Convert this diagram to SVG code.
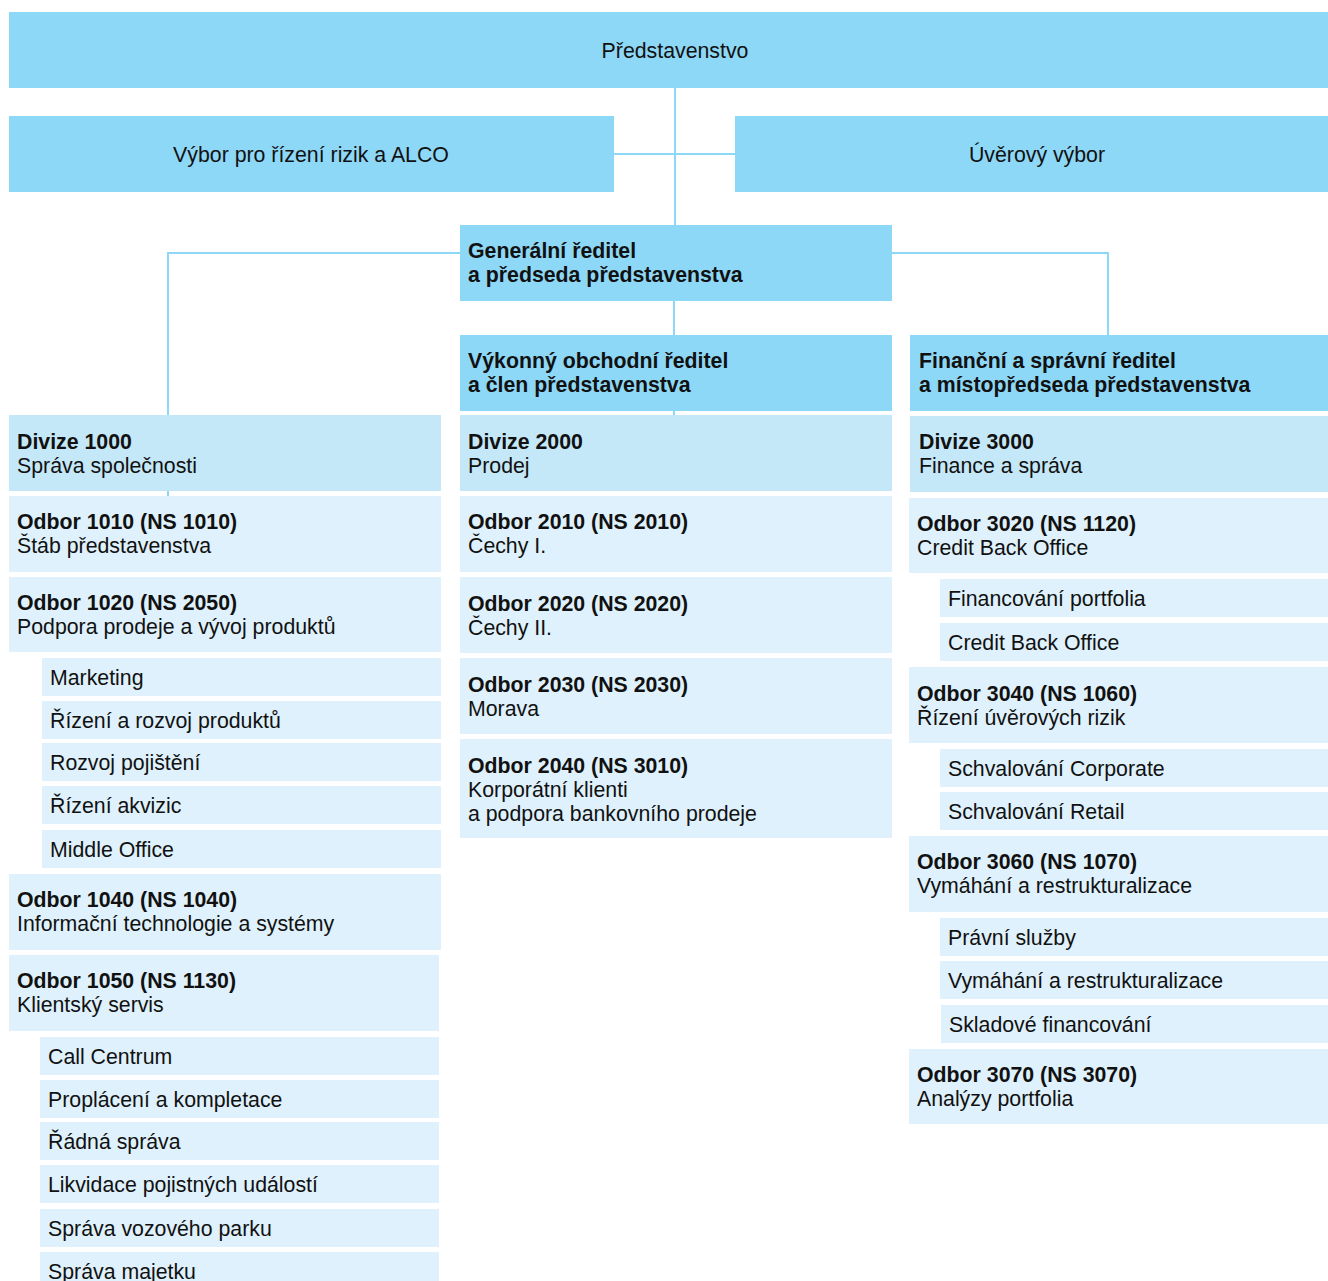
<svg xmlns="http://www.w3.org/2000/svg" width="1328" height="1281" viewBox="0 0 1328 1281">
<style>
.bg{fill:#ffffff}
.d{fill:#8ed8f7}
.m{fill:#c5e8f8}
.l{fill:#dff1fc}
.c{stroke:#8ed8f7;stroke-width:2;fill:none}
text{font-family:"Liberation Sans",Arial,Helvetica,sans-serif;font-size:21.3px;fill:#111111}
.b{font-weight:bold}
.ctr{text-anchor:middle}
</style>
<rect class="bg" x="0" y="0" width="1328" height="1281"/>
<g id="connectors">
<path class="c" d="M675,88 V225"/>
<path class="c" d="M614,154 H735"/>
<path class="c" d="M460,253 H168 V496"/>
<path class="c" d="M892,253 H1108 V335"/>
<path class="c" d="M674,300 V415"/>
</g>
<g id="n-predstavenstvo"><rect class="d" x="9" y="12" width="1319" height="76"/><text class="ctr" x="675" y="58">Představenstvo</text></g>
<g id="n-vybor-rizik"><rect class="d" x="9" y="116" width="605" height="76"/><text class="ctr" x="311" y="162">Výbor pro řízení rizik a ALCO</text></g>
<g id="n-uverovy"><rect class="d" x="735" y="116" width="593" height="76"/><text class="ctr" x="1037" y="162">Úvěrový výbor</text></g>
<g id="n-generalni"><rect class="d" x="460" y="225" width="432" height="76"/><text class="b" x="468" y="258">Generální ředitel</text><text class="b" x="468" y="282">a předseda představenstva</text></g>
<g id="n-vykonny"><rect class="d" x="460" y="335" width="432" height="76"/><text class="b" x="468" y="368">Výkonný obchodní ředitel</text><text class="b" x="468" y="392">a člen představenstva</text></g>
<g id="n-financni"><rect class="d" x="910" y="335" width="418" height="76"/><text class="b" x="919" y="368">Finanční a správní ředitel</text><text class="b" x="919" y="392">a místopředseda představenstva</text></g>

<g id="n-div1000"><rect class="m" x="9" y="415" width="432" height="76"/><text class="b" x="17" y="449">Divize 1000</text><text x="17" y="473">Správa společnosti</text></g>
<g id="n-o1010"><rect class="l" x="9" y="496" width="432" height="76"/><text class="b" x="17" y="529">Odbor 1010 (NS 1010)</text><text x="17" y="553">Štáb představenstva</text></g>
<g id="n-o1020"><rect class="l" x="9" y="577" width="432" height="75"/><text class="b" x="17" y="610">Odbor 1020 (NS 2050)</text><text x="17" y="634">Podpora prodeje a vývoj produktů</text></g>
<g id="n-marketing"><rect class="l" x="42" y="658" width="399" height="38"/><text x="50" y="685">Marketing</text></g>
<g id="n-rizeni-rozvoj"><rect class="l" x="42" y="701" width="399" height="38"/><text x="50" y="728">Řízení a rozvoj produktů</text></g>
<g id="n-rozvoj-pojisteni"><rect class="l" x="42" y="743" width="399" height="38"/><text x="50" y="770">Rozvoj pojištění</text></g>
<g id="n-rizeni-akvizic"><rect class="l" x="42" y="786" width="399" height="38"/><text x="50" y="813">Řízení akvizic</text></g>
<g id="n-middle-office"><rect class="l" x="42" y="830" width="399" height="38"/><text x="50" y="857">Middle Office</text></g>
<g id="n-o1040"><rect class="l" x="9" y="874" width="432" height="76"/><text class="b" x="17" y="907">Odbor 1040 (NS 1040)</text><text x="17" y="931">Informační technologie a systémy</text></g>
<g id="n-o1050"><rect class="l" x="9" y="955" width="430" height="76"/><text class="b" x="17" y="988">Odbor 1050 (NS 1130)</text><text x="17" y="1012">Klientský servis</text></g>
<g id="n-call"><rect class="l" x="40" y="1037" width="399" height="38"/><text x="48" y="1064">Call Centrum</text></g>
<g id="n-proplaceni"><rect class="l" x="40" y="1080" width="399" height="38"/><text x="48" y="1107">Proplácení a kompletace</text></g>
<g id="n-radna"><rect class="l" x="40" y="1122" width="399" height="38"/><text x="48" y="1149">Řádná správa</text></g>
<g id="n-likvidace"><rect class="l" x="40" y="1165" width="399" height="38"/><text x="48" y="1192">Likvidace pojistných událostí</text></g>
<g id="n-vozovy"><rect class="l" x="40" y="1209" width="399" height="38"/><text x="48" y="1236">Správa vozového parku</text></g>
<g id="n-majetek"><rect class="l" x="40" y="1252" width="399" height="38"/><text x="48" y="1279">Správa majetku</text></g>

<g id="n-div2000"><rect class="m" x="460" y="415" width="432" height="76"/><text class="b" x="468" y="449">Divize 2000</text><text x="468" y="473">Prodej</text></g>
<g id="n-o2010"><rect class="l" x="460" y="496" width="432" height="76"/><text class="b" x="468" y="529">Odbor 2010 (NS 2010)</text><text x="468" y="553">Čechy I.</text></g>
<g id="n-o2020"><rect class="l" x="460" y="577" width="432" height="76"/><text class="b" x="468" y="611">Odbor 2020 (NS 2020)</text><text x="468" y="635">Čechy II.</text></g>
<g id="n-o2030"><rect class="l" x="460" y="658" width="432" height="76"/><text class="b" x="468" y="692">Odbor 2030 (NS 2030)</text><text x="468" y="716">Morava</text></g>
<g id="n-o2040"><rect class="l" x="460" y="739" width="432" height="99"/><text class="b" x="468" y="773">Odbor 2040 (NS 3010)</text><text x="468" y="797">Korporátní klienti</text><text x="468" y="821">a podpora bankovního prodeje</text></g>

<g id="n-div3000"><rect class="m" x="910" y="416" width="418" height="76"/><text class="b" x="919" y="449">Divize 3000</text><text x="919" y="473">Finance a správa</text></g>
<g id="n-o3020"><rect class="l" x="909" y="498" width="419" height="75"/><text class="b" x="917" y="531">Odbor 3020 (NS 1120)</text><text x="917" y="555">Credit Back Office</text></g>
<g id="n-financovani"><rect class="l" x="940" y="579" width="388" height="38"/><text x="948" y="606">Financování portfolia</text></g>
<g id="n-cbo"><rect class="l" x="940" y="623" width="388" height="38"/><text x="948" y="650">Credit Back Office</text></g>
<g id="n-o3040"><rect class="l" x="909" y="667" width="419" height="76"/><text class="b" x="917" y="701">Odbor 3040 (NS 1060)</text><text x="917" y="725">Řízení úvěrových rizik</text></g>
<g id="n-corporate"><rect class="l" x="940" y="749" width="388" height="38"/><text x="948" y="776">Schvalování Corporate</text></g>
<g id="n-retail"><rect class="l" x="940" y="792" width="388" height="38"/><text x="948" y="819">Schvalování Retail</text></g>
<g id="n-o3060"><rect class="l" x="909" y="836" width="419" height="76"/><text class="b" x="917" y="869">Odbor 3060 (NS 1070)</text><text x="917" y="893">Vymáhání a restrukturalizace</text></g>
<g id="n-pravni"><rect class="l" x="940" y="918" width="388" height="38"/><text x="948" y="945">Právní služby</text></g>
<g id="n-vymahani"><rect class="l" x="940" y="961" width="388" height="38"/><text x="948" y="988">Vymáhání a restrukturalizace</text></g>
<g id="n-skladove"><rect class="l" x="941" y="1005" width="387" height="38"/><text x="949" y="1032">Skladové financování</text></g>
<g id="n-o3070"><rect class="l" x="909" y="1049" width="419" height="75"/><text class="b" x="917" y="1082">Odbor 3070 (NS 3070)</text><text x="917" y="1106">Analýzy portfolia</text></g>
</svg>
